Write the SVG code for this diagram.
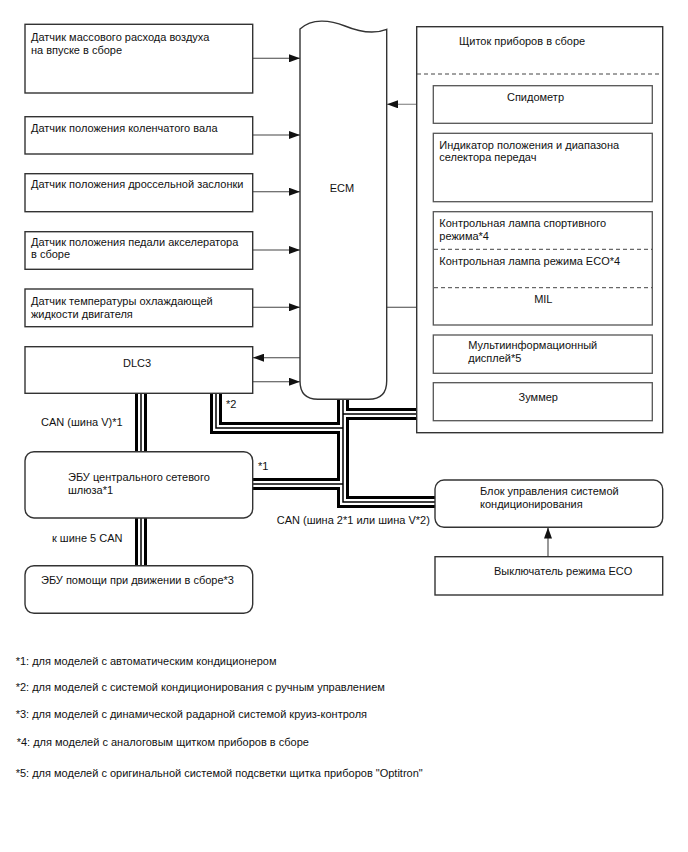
<svg xmlns="http://www.w3.org/2000/svg" width="688" height="852" viewBox="0 0 688 852">
<defs>
<marker id="ah" viewBox="0 0 11 8" refX="11" refY="4" markerWidth="11" markerHeight="8" markerUnits="userSpaceOnUse" orient="auto">
<path d="M0,0 L11,4 L0,8 Z" fill="#111"/>
</marker>
<style>
text{font-family:"Liberation Sans",Arial,sans-serif;font-size:11px;fill:#111}
.note{font-size:11px}
.box{fill:#fff;stroke:#333;stroke-width:1.4}
.ibox{fill:#fff;stroke:#555;stroke-width:1.3}
.dash{fill:none;stroke:#444;stroke-width:1;stroke-dasharray:4 3}
.arr{fill:none;stroke:#444;stroke-width:1.1;marker-end:url(#ah)}
.b1{fill:none;stroke:#000;stroke-width:12}
.b2{fill:none;stroke:#fff;stroke-width:6}
.b3{fill:none;stroke:#000;stroke-width:1.5}
</style>
</defs>
<rect width="688" height="852" fill="#fff"/>

<g id="connectors">
<g class="b1">
<path d="M141,393V452"/><path d="M141,518V566"/><path d="M216,393V428H343"/><path d="M343,398V502H435"/><path d="M252,484H343"/><path d="M343,414H417"/>
</g>
<g class="b2">
<path d="M141,393V452"/><path d="M141,518V566"/><path d="M216,393V428H343"/><path d="M343,398V502H435"/><path d="M252,484H343"/><path d="M343,414H417"/>
</g>
<g class="b3">
<path d="M141,393V452"/><path d="M141,518V566"/><path d="M216,393V428H343"/><path d="M343,398V502H435"/><path d="M252,484H343"/><path d="M343,414H417"/>
</g>
<path class="arr" d="M253,58.3H300"/>
<path class="arr" d="M253,135H300"/>
<path class="arr" d="M253,191.7H300"/>
<path class="arr" d="M253,250H300"/>
<path class="arr" d="M253,307.3H300"/>
<path class="arr" d="M300,357.7H253"/>
<path class="arr" d="M253,381.7H300"/>
<path class="arr" d="M433,104.3H387" style="stroke:#777"/>
<path class="arr" d="M387,307.3H433"/>
<path class="arr" d="M548,557V527.5"/>
</g>

<g id="maf"><rect class="box" x="25" y="24.3" width="227.7" height="68.7"/><text x="31" y="40.5">Датчик массового расхода воздуха</text><text x="31" y="54">на впуске в сборе</text></g>
<g id="ckp"><rect class="box" x="25" y="116.7" width="227.7" height="37.3"/><text x="31" y="131.5">Датчик положения коленчатого вала</text></g>
<g id="tps"><rect class="box" x="25" y="173.7" width="227.7" height="38"/><text x="31" y="188">Датчик положения дроссельной заслонки</text></g>
<g id="app"><rect class="box" x="25" y="231.7" width="227.7" height="37.6"/><text x="31" y="245.5">Датчик положения педали акселератора</text><text x="31" y="258">в сборе</text></g>
<g id="ect"><rect class="box" x="25" y="289" width="227.7" height="37.7"/><text x="31" y="304.5">Датчик температуры охлаждающей</text><text x="31" y="318">жидкости двигателя</text></g>
<g id="dlc3"><rect class="box" x="25" y="346.7" width="227.7" height="46.6"/><text x="137" y="367" text-anchor="middle">DLC3</text></g>

<g id="ecm"><path class="box" d="M300,29 C312,18 330,20 345,26 C362,33 375,34 386.7,29.3 V381 Q386.7,399.3 368.7,399.3 H318 Q300,399.3 300,381 Z"/><text x="342" y="192" text-anchor="middle">ECM</text></g>

<g id="meter"><rect class="box" x="416.7" y="26.7" width="246" height="406"/><text x="459" y="44.5">Щиток приборов в сборе</text><line class="dash" x1="417" y1="74" x2="662" y2="74"/></g>
<g id="speedo"><rect class="ibox" x="433.3" y="85.7" width="219" height="37.6"/><text x="535.5" y="100.5" text-anchor="middle">Спидометр</text></g>
<g id="gear"><rect class="ibox" x="433.3" y="133.3" width="219" height="68.4"/><text x="439.3" y="149">Индикатор положения и диапазона</text><text x="439.3" y="160.5">селектора передач</text></g>
<g id="lamps"><rect class="ibox" x="433.3" y="211.7" width="219" height="113.3"/><text x="439.3" y="227">Контрольная лампа спортивного</text><text x="439.3" y="240">режима*4</text><line class="dash" x1="434" y1="249.3" x2="652" y2="249.3"/><text x="439.3" y="265">Контрольная лампа режима ECO*4</text><line class="dash" x1="434" y1="287.7" x2="652" y2="287.7"/><text x="543.3" y="303" text-anchor="middle">MIL</text></g>
<g id="mid"><rect class="ibox" x="433.3" y="335" width="219" height="38.3"/><text x="468.3" y="349">Мультиинформационный</text><text x="468.3" y="362">дисплей*5</text></g>
<g id="buzzer"><rect class="ibox" x="433.3" y="382.7" width="219" height="38"/><text x="538.3" y="400.5" text-anchor="middle">Зуммер</text></g>

<g id="gateway"><rect class="box" x="25" y="451.7" width="227.7" height="66.3" rx="9"/><text x="68" y="481">ЭБУ центрального сетевого</text><text x="68" y="494">шлюза*1</text></g>
<g id="dsecu"><rect class="box" x="25" y="565.7" width="227.7" height="47.6" rx="9"/><text x="41" y="584">ЭБУ помощи при движении в сборе*3</text></g>
<g id="ac"><rect class="box" x="435" y="480" width="227.7" height="47.3" rx="9"/><text x="480" y="495">Блок управления системой</text><text x="480" y="508">кондиционирования</text></g>
<g id="ecosw"><rect class="box" x="435" y="556.7" width="227.7" height="38.3"/><text x="494" y="575">Выключатель режима ECO</text></g>

<g id="labels">
<text x="226" y="408">*2</text>
<text x="41" y="426">CAN (шина V)*1</text>
<text x="258" y="470">*1</text>
<text x="52" y="542">к шине 5 CAN</text>
<text x="276.7" y="524">CAN (шина 2*1 или шина V*2)</text>
</g>

<g id="notes">
<text class="note" x="15.7" y="664.5">*1: для моделей с автоматическим кондиционером</text>
<text class="note" x="15.7" y="691">*2: для моделей с системой кондиционирования с ручным управлением</text>
<text class="note" x="15.7" y="718">*3: для моделей с динамической радарной системой круиз-контроля</text>
<text class="note" x="16.7" y="746">*4: для моделей с аналоговым щитком приборов в сборе</text>
<text class="note" x="15.7" y="776.5">*5: для моделей с оригинальной системой подсветки щитка приборов "Optitron"</text>
</g>
</svg>
